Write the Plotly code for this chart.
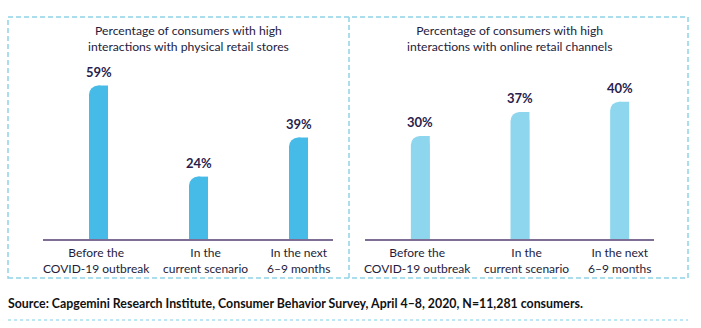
import plotly.graph_objects as go

categories = ["Before the<br>COVID-19 outbreak", "In the<br>current scenario", "In the next<br>6–9 months"]
physical_values = [59, 24, 39]
online_values = [30, 37, 40]
panel_titles = ["Percentage of consumers with high<br>interactions with physical retail stores",
                "Percentage of consumers with high<br>interactions with online retail channels"]
source_text = "Source: Capgemini Research Institute, Consumer Behavior Survey, April 4–8, 2020, N=11,281 consumers."

W, H = 701, 328
def px(x): return x / W
def py(y): return 1 - y / H

FONT = "Lato"
TXT = "#231c3c"
LBL = "#2a1d4d"
C_LEFT = "#47bbe7"
C_RIGHT = "#8dd6ee"
BW = 0.19
xs = [0, 1, 2]
label_shift = [-2.5, 6.5, 0]

fig = go.Figure()
for vals, col, xa, ya in [(physical_values, C_LEFT, "x", "y"), (online_values, C_RIGHT, "x2", "y2")]:
    fig.add_trace(go.Bar(x=xs, y=vals, width=[BW]*3, offset=[-BW/2]*3, marker=dict(color=col, cornerradius=9, line=dict(width=0)),
                         xaxis=xa, yaxis=ya, hoverinfo="skip", showlegend=False))
    fig.add_trace(go.Bar(x=xs, y=vals, width=[BW/2]*3, offset=[0]*3, marker=dict(color=col, line=dict(width=0)),
                         xaxis=xa, yaxis=ya, hoverinfo="skip", showlegend=False))
    for xi, v in zip(xs, vals):
        fig.add_annotation(x=xi, y=v, xref=xa, yref=ya, text=f"<b>{v}%</b>", showarrow=False,
                           yanchor="bottom", yshift=4, font=dict(family=FONT, size=13, color=LBL))
    for xi, c, s in zip(xs, categories, label_shift):
        fig.add_annotation(x=xi, y=0, xref=xa, yref=ya, text=c, showarrow=False, xanchor="center",
                           yanchor="top", yshift=-4, xshift=s, align="center",
                           font=dict(family=FONT, size=12, color=TXT))

axis_common = dict(range=[-0.555, 2.345], showticklabels=False,
                   showline=True, linecolor="#7e6d95", linewidth=2, showgrid=False, zeroline=False,
                   ticks="", fixedrange=True)
fig.update_layout(
    width=W, height=H, margin=dict(l=0, r=0, t=0, b=0),
    paper_bgcolor="white", plot_bgcolor="white", barmode="overlay",
    xaxis=dict(domain=[px(43), px(333)], anchor="y", **axis_common),
    xaxis2=dict(domain=[px(365), px(654)], anchor="y2", **axis_common),
    yaxis=dict(domain=[py(239), py(57)], range=[0, 70], visible=False, fixedrange=True),
    yaxis2=dict(domain=[py(239), py(57)], range=[0, 53], visible=False, fixedrange=True, anchor="x2"),
    font=dict(family=FONT, color=TXT),
)

for cx, t in [(189, panel_titles[0]), (509, panel_titles[1])]:
    fig.add_annotation(x=px(cx), y=py(38), xref="paper", yref="paper", text=t, showarrow=False,
                       xanchor="center", yanchor="middle", font=dict(family=FONT, size=12.2, color=TXT))

fig.add_annotation(x=px(8), y=py(303), xref="paper", yref="paper", text=f"<b>{source_text}</b>",
                   showarrow=False, xanchor="left", yanchor="middle", xshift=-2,
                   font=dict(family=FONT, size=12.35, color="#111111"))

dash_line = dict(color="#8fd3e8", width=1.5, dash="5px,3px")
fig.add_shape(type="rect", xref="paper", yref="paper", x0=px(8), x1=px(688), y0=py(278), y1=py(17), line=dash_line)
fig.add_shape(type="line", xref="paper", yref="paper", x0=px(349), x1=px(349), y0=py(278), y1=py(17), line=dash_line)
fig.add_shape(type="line", xref="paper", yref="paper", x0=px(8), x1=px(688), y0=py(320), y1=py(320),
              line=dict(color="#7fcfe6", width=1, dash="dot"))

fig.write_html("out.html")
